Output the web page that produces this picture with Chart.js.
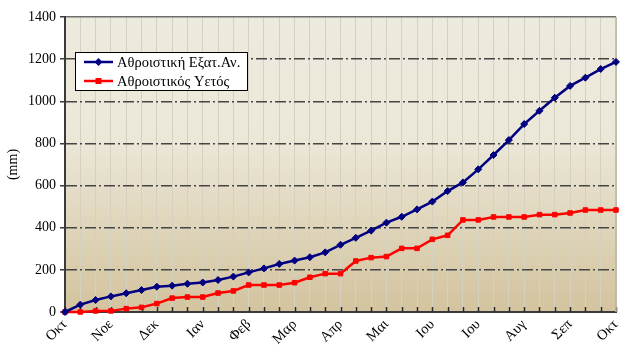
<!DOCTYPE html>
<html>
<head>
<meta charset="utf-8">
<script src="https://cdn.jsdelivr.net/npm/chart.js@4/dist/chart.umd.min.js"></script>
<style>
html,body{margin:0;padding:0;background:#fff;}
#wrap{width:638px;height:364px;position:relative;}
</style>
</head>
<body>
<div id="wrap"><canvas id="c" width="638" height="364"></canvas></div>
<script>
const monthLabels = ["Οκτ","Νοε","Δεκ","Ιαν","Φεβ","Μαρ","Απρ","Μαι","Ιου","Ιου","Αυγ","Σεπ","Οκτ"];
const seriesNames = ["Αθροιστική Εξατ.Αν.","Αθροιστικός Υετός"];
const evapCum = [0,35,57,74,89,104,120,125,134,140,152,168,188,207,228,244,260,283,319,352,386,424,452,487,524,574,615,677,745,816,892,955,1017,1073,1112,1153,1187];
const rainCum = [0,0,5,5,16,22,40,66,71,71,90,100,128,128,128,139,165,182,182,242,258,263,302,302,345,364,437,437,451,451,451,462,462,470,484,484,484];
const yTicks = [0,200,400,600,800,1000,1200,1400];

const categories = [];
for (let i = 0; i < evapCum.length; i++) {
  categories.push(i % 3 === 0 ? monthLabels[i / 3] : "");
}

const FONT = "'Liberation Serif', 'DejaVu Serif', serif";

const bgPlugin = {
  id: 'bg',
  beforeDraw(chart) {
    const {ctx, chartArea: a} = chart;
    const g = ctx.createLinearGradient(0, a.top, 0, a.bottom);
    g.addColorStop(0, '#EDEADE');
    g.addColorStop(0.4, '#ECE8D9');
    g.addColorStop(1, '#D3C39E');
    ctx.save();
    ctx.fillStyle = g;
    ctx.fillRect(a.left, a.top, a.right - a.left, a.bottom - a.top);
    ctx.restore();
  },
  beforeDatasetsDraw(chart) {
    const {ctx, chartArea: a} = chart;
    const xs = chart.scales.x;
    ctx.save();
    ctx.strokeStyle = '#2a2a2a';
    ctx.lineWidth = 1.5;
    for (let i = 0; i < categories.length; i++) {
      const px = Math.round(xs.getPixelForValue(i)) + 0.5;
      ctx.beginPath();
      ctx.moveTo(px, a.bottom);
      ctx.lineTo(px, a.bottom - 5);
      ctx.stroke();
    }
    ctx.strokeStyle = '#b8b4a6';
    ctx.lineWidth = 1.5;
    ctx.beginPath();
    ctx.moveTo(a.right, a.top);
    ctx.lineTo(a.right, a.bottom);
    ctx.stroke();
    ctx.restore();
  },
  afterDraw(chart) {
    const {ctx} = chart;
    const bx = 75, by = 52, bw = 172, bh = 38;
    ctx.save();
    ctx.fillStyle = '#ffffff';
    ctx.fillRect(bx, by, bw, bh);
    ctx.strokeStyle = '#000000';
    ctx.lineWidth = 1;
    ctx.strokeRect(bx + 0.5, by + 0.5, bw, bh);
    chart.data.datasets.forEach((ds, k) => {
      const y = by + 10 + k * 19;
      ctx.strokeStyle = ds.borderColor;
      ctx.lineWidth = 2.5;
      ctx.beginPath();
      ctx.moveTo(84, y);
      ctx.lineTo(113, y);
      ctx.stroke();
      ctx.fillStyle = ds.borderColor;
      if (k === 0) {
        ctx.beginPath();
        ctx.moveTo(98.5, y - 4);
        ctx.lineTo(102.5, y);
        ctx.lineTo(98.5, y + 4);
        ctx.lineTo(94.5, y);
        ctx.closePath();
        ctx.fill();
      } else {
        ctx.fillRect(95.5, y - 3, 6, 6);
      }
      ctx.fillStyle = '#000';
      ctx.font = "14.5px " + FONT;
      ctx.textBaseline = 'middle';
      ctx.fillText(ds.label, 117, y + 1);
    });
    ctx.restore();
  }
};

new Chart(document.getElementById('c'), {
  type: 'line',
  data: {
    labels: categories,
    datasets: [
      {
        label: seriesNames[0],
        data: evapCum,
        borderColor: '#000080',
        backgroundColor: '#000080',
        borderWidth: 2.5,
        pointStyle: 'rectRot',
        pointRadius: 3.5,
        pointBorderWidth: 1,
        tension: 0
      },
      {
        label: seriesNames[1],
        data: rainCum,
        borderColor: '#FF0000',
        backgroundColor: '#FF0000',
        borderWidth: 2.5,
        pointStyle: 'rect',
        pointRadius: 3.2,
        pointBorderWidth: 1,
        tension: 0
      }
    ]
  },
  options: {
    responsive: false,
    animation: false,
    clip: false,
    layout: {padding: {left: 5, right: 22, top: 17, bottom: 0}},
    plugins: {
      legend: {display: false},
      tooltip: {enabled: false}
    },
    scales: {
      x: {
        offset: false,
        afterFit(s) { s.height = 52; },
        grid: {
          color: '#d5d1c1',
          lineWidth: 1,
          drawTicks: false
        },
        border: {color: '#3a3a3a', width: 2},
        ticks: {
          autoSkip: false,
          maxRotation: 45,
          minRotation: 45,
          padding: 4,
          color: '#000',
          font: {family: FONT, size: 14.5}
        }
      },
      y: {
        min: 0,
        max: 1400,
        afterFit(s) { s.width = 60; },
        afterBuildTicks(s) { s.ticks = yTicks.map(v => ({value: v})); },
        grid: {
          color: (c) => c.tick && c.tick.value === 1400 ? '#6e6e6e' : '#454545',
          lineWidth: (c) => c.tick && c.tick.value === 0 ? 0 : 1.5,
          tickLength: 5,
          tickColor: '#3a3a3a',
          tickWidth: 1.5,
          tickBorderDash: []
        },
        border: {
          color: '#3a3a3a',
          width: 2,
          dash: (c) => c.tick && c.tick.value === 1400 ? [] : [11, 3, 2, 3]
        },
        title: {
          display: true,
          text: '(mm)',
          color: '#000',
          font: {family: FONT, size: 14},
          padding: 0
        },
        ticks: {
          color: '#000',
          padding: 4,
          font: {family: FONT, size: 14},
          callback: (v) => String(v)
        }
      }
    }
  },
  plugins: [bgPlugin]
});
</script>
</body>
</html>
